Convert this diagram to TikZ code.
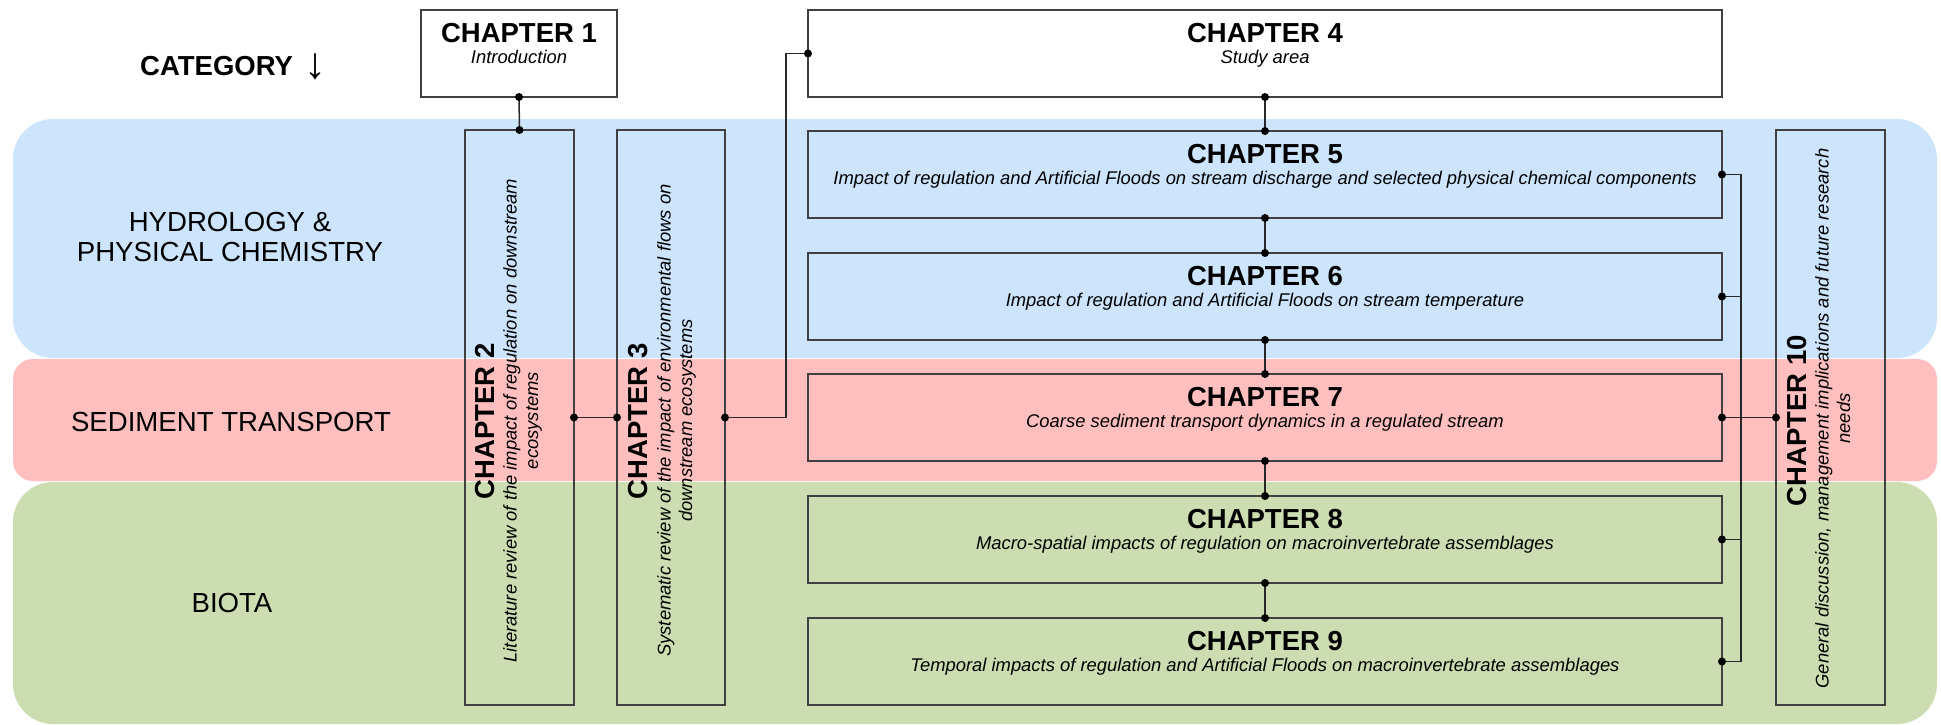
\documentclass[tikz,border=0pt]{standalone}
\usepackage{fontspec}
\setmainfont{Liberation Sans}
\usetikzlibrary{calc}
\definecolor{bandblue}{RGB}{204,228,252}
\definecolor{bandred}{RGB}{255,191,191}
\definecolor{bandgreen}{RGB}{204,222,177}
\definecolor{edge}{RGB}{64,64,64}
\definecolor{linkc}{RGB}{40,40,40}
\begin{document}
\begin{tikzpicture}[x=1pt,y=-1pt,
  chbox/.style={draw=edge, line width=1.5pt, inner sep=0pt, outer sep=0pt},
  ttl/.style={font=\bfseries\fontsize{27.5}{30}\selectfont, inner sep=0pt},
  sub/.style={font=\itshape\fontsize{18.4}{21.5}\selectfont, inner sep=0pt, align=center},
  cat/.style={font=\fontsize{27.6}{30}\selectfont, align=center, inner sep=0pt},
  link/.style={draw=linkc, line width=1.5pt}]
\useasboundingbox (0,0) rectangle (1941,724);
% category bands
\fill[bandblue, rounded corners=40pt] (13,119) rectangle (1937,358);
\fill[bandred, rounded corners=20pt] (13,359) rectangle (1937,481);
\fill[bandgreen, rounded corners=40pt] (13,482) rectangle (1937,724);
% category labels
\node[font=\bfseries\fontsize{27.5}{30}\selectfont, anchor=base west, inner sep=0pt] (cattitle) at (140,75) {CATEGORY};
\node[font=\fontsize{44}{46}\selectfont, inner sep=0pt] (catarrow) at (315,67) {↓};
\node[cat] (hyd) at (230,237) {HYDROLOGY \&\\PHYSICAL CHEMISTRY};
\node[cat] (sed) at (231,422) {SEDIMENT TRANSPORT};
\node[cat] (bio) at (232,603) {BIOTA};
% boxes
\node[chbox, fill=white, minimum width=196pt, minimum height=87pt] (c1) at (519,53.5) {};
\node[chbox, fill=white, minimum width=914pt, minimum height=87pt] (c4) at (1265,53.5) {};
\node[chbox, minimum width=914pt, minimum height=87pt] (c5) at (1265,174.5) {};
\node[chbox, minimum width=914pt, minimum height=87pt] (c6) at (1265,296.5) {};
\node[chbox, minimum width=914pt, minimum height=87pt] (c7) at (1265,417.5) {};
\node[chbox, minimum width=914pt, minimum height=87pt] (c8) at (1265,539.5) {};
\node[chbox, minimum width=914pt, minimum height=87pt] (c9) at (1265,661.5) {};
\node[chbox, minimum width=109pt, minimum height=575pt] (c2) at (519.5,417.5) {};
\node[chbox, minimum width=108pt, minimum height=575pt] (c3) at (671,417.5) {};
\node[chbox, minimum width=109pt, minimum height=575pt] (c10) at (1830.5,417.5) {};
% horizontal box texts
\node[ttl, anchor=base] (t1) at ([yshift=-32pt]c1.north) {CHAPTER 1};
\node[sub, anchor=base] (s1) at ([yshift=-53pt]c1.north) {Introduction};
\node[ttl, anchor=base] (t4) at ([yshift=-32pt]c4.north) {CHAPTER 4};
\node[sub, anchor=base] (s4) at ([yshift=-53pt]c4.north) {Study area};
\node[ttl, anchor=base] (t5) at ([yshift=-32pt]c5.north) {CHAPTER 5};
\node[sub, anchor=base] (s5) at ([yshift=-53pt]c5.north) {Impact of regulation and Artificial Floods on stream discharge and selected physical chemical components};
\node[ttl, anchor=base] (t6) at ([yshift=-32pt]c6.north) {CHAPTER 6};
\node[sub, anchor=base] (s6) at ([yshift=-53pt]c6.north) {Impact of regulation and Artificial Floods on stream temperature};
\node[ttl, anchor=base] (t7) at ([yshift=-32pt]c7.north) {CHAPTER 7};
\node[sub, anchor=base] (s7) at ([yshift=-53pt]c7.north) {Coarse sediment transport dynamics in a regulated stream};
\node[ttl, anchor=base] (t8) at ([yshift=-32pt]c8.north) {CHAPTER 8};
\node[sub, anchor=base] (s8) at ([yshift=-53pt]c8.north) {Macro-spatial impacts of regulation on macroinvertebrate assemblages};
\node[ttl, anchor=base] (t9) at ([yshift=-32pt]c9.north) {CHAPTER 9};
\node[sub, anchor=base] (s9) at ([yshift=-53pt]c9.north) {Temporal impacts of regulation and Artificial Floods on macroinvertebrate assemblages};
% rotated box texts
\node[ttl, rotate=90, anchor=north] (t2) at ([xshift=10pt,yshift=-4pt]c2.west) {CHAPTER 2};
\node[sub, rotate=90, anchor=north] (s2) at ([xshift=38pt,yshift=-3pt]c2.west) {Literature review of the impact of regulation on downstream\\ecosystems};
\node[ttl, rotate=90, anchor=north] (t3) at ([xshift=11pt,yshift=-4pt]c3.west) {CHAPTER 3};
\node[sub, rotate=90, anchor=north] (s3) at ([xshift=40pt,yshift=-3pt]c3.west) {Systematic review of the impact of environmental flows on\\downstream ecosystems};
\node[ttl, rotate=90, anchor=north] (t10) at ([xshift=11pt,yshift=-3pt]c10.west) {CHAPTER 10};
\node[sub, rotate=90, anchor=north] (s10) at ([xshift=39pt,yshift=-1pt]c10.west) {General discussion, management implications and future research\\needs};
% connectors
\draw[link] (c1.south) -- (c2.north);
\draw[link] (c2.east) -- (c3.west);
\draw[link] (c3.east) -- ++(61,0) |- (c4.west);
\draw[link] (c4.south) -- (c5.north);
\draw[link] (c5.south) -- (c6.north);
\draw[link] (c6.south) -- (c7.north);
\draw[link] (c7.south) -- (c8.north);
\draw[link] (c8.south) -- (c9.north);
\draw[link] (c5.east) -- ++(19,0) |- (c9.east);
\draw[link] (c6.east) -- ++(19,0);
\draw[link] (c8.east) -- ++(19,0);
\draw[link] (c7.east) -- (c10.west);
\foreach \p in {c1.south,c2.north,c2.east,c3.west,c3.east,c4.west,c4.south,c5.north,c5.south,c6.north,c6.south,c7.north,c7.south,c8.north,c8.south,c9.north,c5.east,c6.east,c7.east,c8.east,c9.east,c10.west}
  \fill[black] (\p) circle (4pt);
\end{tikzpicture}
\end{document}
